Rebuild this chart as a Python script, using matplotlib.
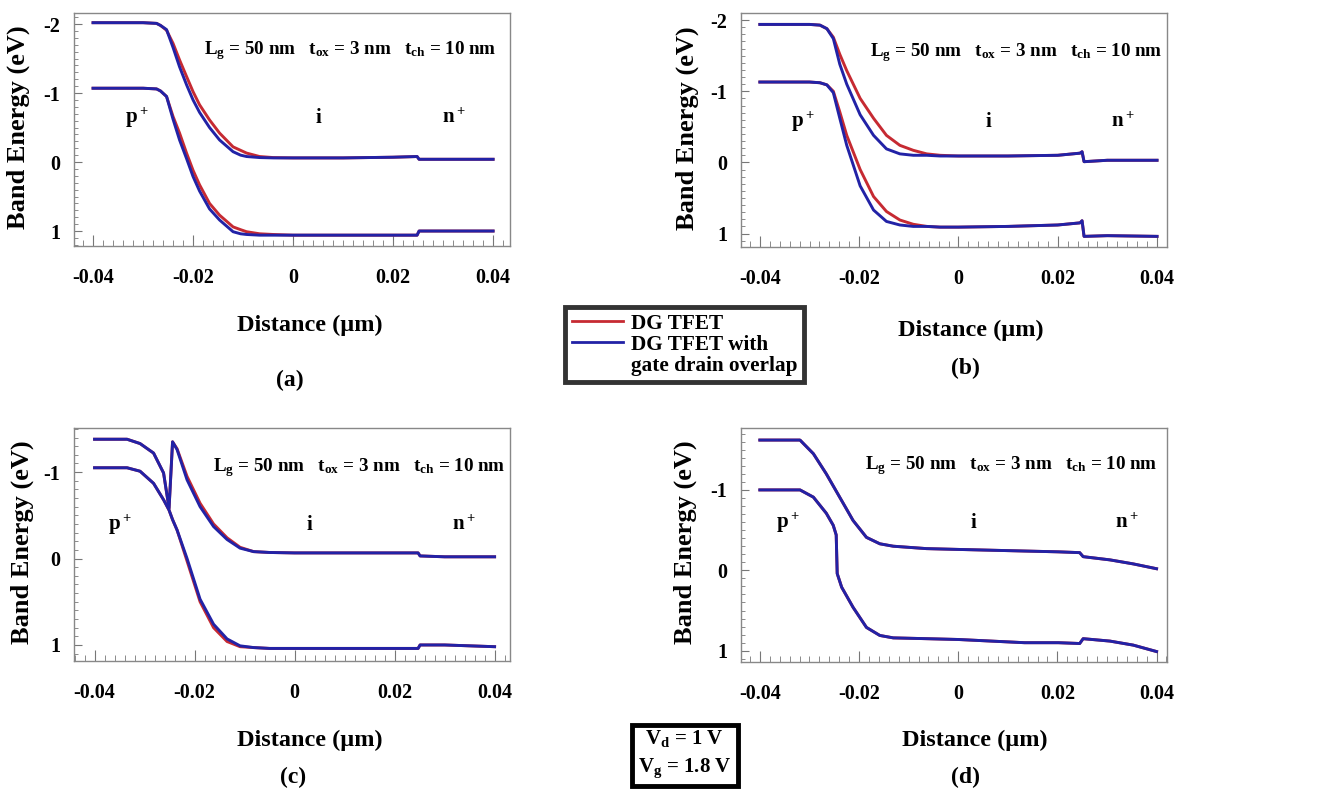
import matplotlib
matplotlib.use("Agg")
import matplotlib.pyplot as plt
from matplotlib.lines import Line2D
from matplotlib.ticker import MultipleLocator

plt.rcParams['font.family'] = ['Liberation Serif', 'DejaVu Serif']
plt.rcParams['font.weight'] = 'bold'
plt.rcParams['mathtext.fontset'] = 'custom'
plt.rcParams['mathtext.rm'] = 'Liberation Serif:bold'
plt.rcParams['mathtext.it'] = 'Liberation Serif:bold'
plt.rcParams['mathtext.bf'] = 'Liberation Serif:bold'
plt.rcParams['mathtext.default'] = 'rm'
plt.rcParams['axes.unicode_minus'] = False

RED = '#c62a32'
BLUE = '#2222a6'

# ---- panel (a) ----
xa = [-0.040, -0.030, -0.0273, -0.0265, -0.0253, -0.024, -0.0227, -0.0213, -0.020, -0.0187, -0.0167,
      -0.0147, -0.012, -0.0105, -0.0093, -0.0067, -0.004, 0.0, 0.010, 0.020, 0.0248, 0.0252, 0.030, 0.040]
a_red_up = [-2.02, -2.02, -2.01, -1.98, -1.91, -1.72, -1.48, -1.24, -1.02, -0.83, -0.61,
            -0.42, -0.22, -0.17, -0.13, -0.08, -0.065, -0.06, -0.06, -0.07, -0.08, -0.04, -0.04, -0.04]
a_blue_up = [-2.02, -2.02, -2.01, -1.98, -1.92, -1.66, -1.38, -1.12, -0.90, -0.72, -0.50,
             -0.32, -0.15, -0.10, -0.08, -0.065, -0.06, -0.06, -0.06, -0.07, -0.08, -0.04, -0.04, -0.04]
a_red_lo = [-1.07, -1.07, -1.06, -1.03, -0.95, -0.66, -0.42, -0.13, 0.12, 0.33, 0.60,
            0.77, 0.94, 0.98, 1.01, 1.04, 1.05, 1.06, 1.06, 1.06, 1.06, 1.00, 1.00, 1.00]
a_blue_lo = [-1.07, -1.07, -1.06, -1.03, -0.95, -0.62, -0.32, -0.05, 0.21, 0.42, 0.68,
             0.84, 1.01, 1.04, 1.05, 1.06, 1.06, 1.06, 1.06, 1.06, 1.06, 1.00, 1.00, 1.00]

# ---- panel (b) ----
xb = [-0.040, -0.030, -0.0279, -0.0265, -0.0252, -0.0239, -0.0225, -0.0198, -0.0171, -0.0145, -0.0118,
      -0.0091, -0.0064, -0.0037, 0.0, 0.010, 0.020, 0.0245, 0.0249, 0.0253, 0.030, 0.040]
b_red_up = [-1.94, -1.94, -1.93, -1.88, -1.76, -1.52, -1.29, -0.90, -0.62, -0.38, -0.24,
            -0.17, -0.12, -0.10, -0.09, -0.09, -0.10, -0.13, -0.15, -0.01, -0.03, -0.03]
b_blue_up = [-1.94, -1.94, -1.93, -1.88, -1.74, -1.38, -1.10, -0.67, -0.38, -0.19, -0.12,
             -0.10, -0.10, -0.09, -0.09, -0.09, -0.10, -0.13, -0.15, -0.01, -0.03, -0.03]
b_red_lo = [-1.13, -1.13, -1.12, -1.09, -1.00, -0.71, -0.38, 0.10, 0.48, 0.69, 0.81,
            0.87, 0.90, 0.91, 0.91, 0.90, 0.88, 0.85, 0.82, 1.04, 1.03, 1.04]
b_blue_lo = [-1.13, -1.13, -1.12, -1.09, -0.98, -0.62, -0.24, 0.33, 0.67, 0.83, 0.88,
             0.90, 0.90, 0.91, 0.91, 0.90, 0.88, 0.85, 0.82, 1.04, 1.03, 1.04]

# ---- panel (c) ----
xc = [-0.040, -0.0335, -0.0309, -0.0282, -0.0262, -0.0251, -0.0244, -0.0235, -0.0215, -0.0189,
      -0.0162, -0.0135, -0.0109, -0.0082, -0.005, 0.0, 0.010, 0.020, 0.0247, 0.0251, 0.030, 0.040]
c_red_up = [-1.38, -1.38, -1.33, -1.22, -0.99, -0.58, -1.35, -1.27, -0.95, -0.64,
            -0.40, -0.24, -0.13, -0.08, -0.07, -0.065, -0.065, -0.065, -0.065, -0.03, -0.02, -0.02]
c_blue_up = [-1.38, -1.38, -1.33, -1.22, -0.99, -0.58, -1.35, -1.26, -0.91, -0.60,
             -0.37, -0.22, -0.12, -0.08, -0.07, -0.065, -0.065, -0.065, -0.065, -0.03, -0.02, -0.02]
c_red_lo = [-1.05, -1.05, -1.01, -0.87, -0.68, -0.56, -0.45, -0.33, 0.03, 0.50,
            0.80, 0.96, 1.02, 1.03, 1.04, 1.04, 1.04, 1.04, 1.04, 1.00, 1.00, 1.02]
c_blue_lo = [-1.05, -1.05, -1.01, -0.87, -0.68, -0.56, -0.45, -0.33, 0.00, 0.47,
             0.76, 0.93, 1.01, 1.03, 1.04, 1.04, 1.04, 1.04, 1.04, 1.00, 1.00, 1.02]

# ---- panel (d) ----
xd_up = [-0.040, -0.0319, -0.0292, -0.0266, -0.0239, -0.0212, -0.0185, -0.0158, -0.0131, -0.0064,
         0.0, 0.0067, 0.0134, 0.0202, 0.0245, 0.0252, 0.0306, 0.0353, 0.040]
d_up = [-1.62, -1.62, -1.45, -1.20, -0.91, -0.62, -0.41, -0.33, -0.30, -0.27,
        -0.26, -0.25, -0.24, -0.23, -0.22, -0.17, -0.13, -0.08, -0.02]
xd_lo = [-0.040, -0.0319, -0.0292, -0.0266, -0.0252, -0.0246, -0.0244, -0.0235, -0.0212, -0.0185,
         -0.0158, -0.0131, -0.0064, 0.0, 0.0067, 0.0134, 0.0202, 0.0245, 0.0252, 0.0306, 0.0353, 0.040]
d_lo = [-1.00, -1.00, -0.91, -0.71, -0.56, -0.44, 0.04, 0.21, 0.46, 0.71,
        0.81, 0.84, 0.85, 0.86, 0.88, 0.90, 0.90, 0.91, 0.85, 0.88, 0.93, 1.01]

xticks = [-0.04, -0.02, 0, 0.02, 0.04]
xtick_labels = ['-0.04', '-0.02', '0', '0.02', '0.04']

fig = plt.figure(figsize=(13.27, 8.0), dpi=100)

# axes rectangles
ax_a = fig.add_axes([0.0558, 0.6925, 0.3286, 0.2912])
ax_b = fig.add_axes([0.5584, 0.6912, 0.3210, 0.2925])
ax_c = fig.add_axes([0.0558, 0.1738, 0.3286, 0.2912])
ax_d = fig.add_axes([0.5584, 0.1725, 0.3210, 0.2925])

ax_a.plot(xa, a_red_up, color=RED, lw=2.1)
ax_a.plot(xa, a_red_lo, color=RED, lw=2.1)
ax_a.plot(xa, a_blue_up, color=BLUE, lw=2.1)
ax_a.plot(xa, a_blue_lo, color=BLUE, lw=2.1)

ax_b.plot(xb, b_red_up, color=RED, lw=2.1)
ax_b.plot(xb, b_red_lo, color=RED, lw=2.1)
ax_b.plot(xb, b_blue_up, color=BLUE, lw=2.1)
ax_b.plot(xb, b_blue_lo, color=BLUE, lw=2.1)

ax_c.plot(xc, c_red_up, color=RED, lw=2.1)
ax_c.plot(xc, c_red_lo, color=RED, lw=2.1)
ax_c.plot(xc, c_blue_up, color=BLUE, lw=2.1)
ax_c.plot(xc, c_blue_lo, color=BLUE, lw=2.1)

ax_d.plot(xd_up, d_up, color=RED, lw=2.1)
ax_d.plot(xd_lo, d_lo, color=RED, lw=2.1)
ax_d.plot(xd_up, d_up, color=BLUE, lw=2.1)
ax_d.plot(xd_lo, d_lo, color=BLUE, lw=2.1)

# ax, xlim, ylim, yticks, xlabel coords, ylabel x, param text x/y, region label y, region label x's
setup = [
    (ax_a, (-0.0438, 0.0434), (1.217, -2.16), [-2, -1, 0, 1], (0.54, -0.34), -0.128, 0.298, 0.84,
     0.55, (0.145, 0.56, 0.87)),
    (ax_b, (-0.0438, 0.0420), (1.19, -2.10), [-2, -1, 0, 1], (0.54, -0.355), -0.127, 0.303, 0.833,
     0.534, (0.146, 0.58, 0.897)),
    (ax_c, (-0.0441, 0.0431), (1.185, -1.51), [-1, 0, 1], (0.54, -0.34), -0.119, 0.319, 0.83,
     0.584, (0.105, 0.54, 0.893)),
    (ax_d, (-0.0438, 0.0421), (1.14, -1.77), [-1, 0, 1], (0.55, -0.333), -0.131, 0.291, 0.84,
     0.594, (0.11, 0.545, 0.905)),
]

for ax, xl, yl, yt, xlab, ylab_x, tx, ty, ry, rx in setup:
    ax.set_xlim(*xl)
    ax.set_ylim(*yl)
    ax.set_xticks(xticks)
    ax.set_xticklabels(xtick_labels)
    ax.set_yticks(yt)
    ax.set_yticklabels([str(v) for v in yt])
    ax.xaxis.set_minor_locator(MultipleLocator(0.002))
    ax.yaxis.set_minor_locator(MultipleLocator(0.1))
    ax.tick_params(which='both', direction='in', color='#777777', labelsize=14.5)
    ax.tick_params(axis='x', which='major', length=8, pad=16)
    ax.tick_params(axis='x', which='minor', length=4)
    ax.tick_params(axis='y', which='major', length=6, pad=10)
    ax.tick_params(axis='y', which='minor', length=3)
    for sp in ax.spines.values():
        sp.set_color('#888888')
        sp.set_linewidth(1.0)
    ax.set_xlabel('Distance (µm)', fontsize=17.5, fontweight='bold')
    ax.xaxis.set_label_coords(*xlab)
    ax.xaxis.label.set_va('center')
    ax.set_ylabel('Band Energy (eV)', fontsize=19, fontweight='bold')
    ax.yaxis.set_label_coords(ylab_x, 0.51)
    ax.yaxis.label.set_va('center')
    ax.text(tx, ty, 'L$_g$ = 50 nm   t$_{ox}$ = 3 nm   t$_{ch}$ = 10 nm',
            transform=ax.transAxes, fontsize=13.7, ha='left', va='center')
    ax.text(rx[0], ry, 'p$^+$', transform=ax.transAxes, fontsize=15, ha='center', va='center')
    ax.text(rx[1], ry, 'i', transform=ax.transAxes, fontsize=15, ha='center', va='center')
    ax.text(rx[2], ry, 'n$^+$', transform=ax.transAxes, fontsize=15, ha='center', va='center')

fig.text(290 / 1327, 1 - 380 / 800, '(a)', fontsize=17, ha='center', va='center')
fig.text(965 / 1327, 1 - 368 / 800, '(b)', fontsize=17, ha='center', va='center')
fig.text(293 / 1327, 1 - 777 / 800, '(c)', fontsize=17, ha='center', va='center')
fig.text(965 / 1327, 1 - 777 / 800, '(d)', fontsize=17, ha='center', va='center')

handles = [Line2D([], [], color=RED, lw=2),
           Line2D([], [], color=BLUE, lw=2),
           Line2D([], [], color='none')]
labels = ['DG TFET', 'DG TFET with', 'gate drain overlap']
leg = fig.legend(handles, labels, loc='center', bbox_to_anchor=(0.516, 0.569),
                 fontsize=15.3, frameon=True, fancybox=False, edgecolor='black',
                 handlelength=2.4, handletextpad=0.4, labelspacing=0.05,
                 borderpad=0.3, borderaxespad=0)
leg.get_frame().set_linewidth(3.5)

fig.text(0.516, 0.0575, 'V$_d$ = 1 V\nV$_g$ = 1.8 V', fontsize=15, ha='center', va='center',
         linespacing=1.45,
         bbox=dict(boxstyle='square,pad=0.3', fc='white', ec='black', lw=3.5))

fig.savefig('out.png', dpi=100)
